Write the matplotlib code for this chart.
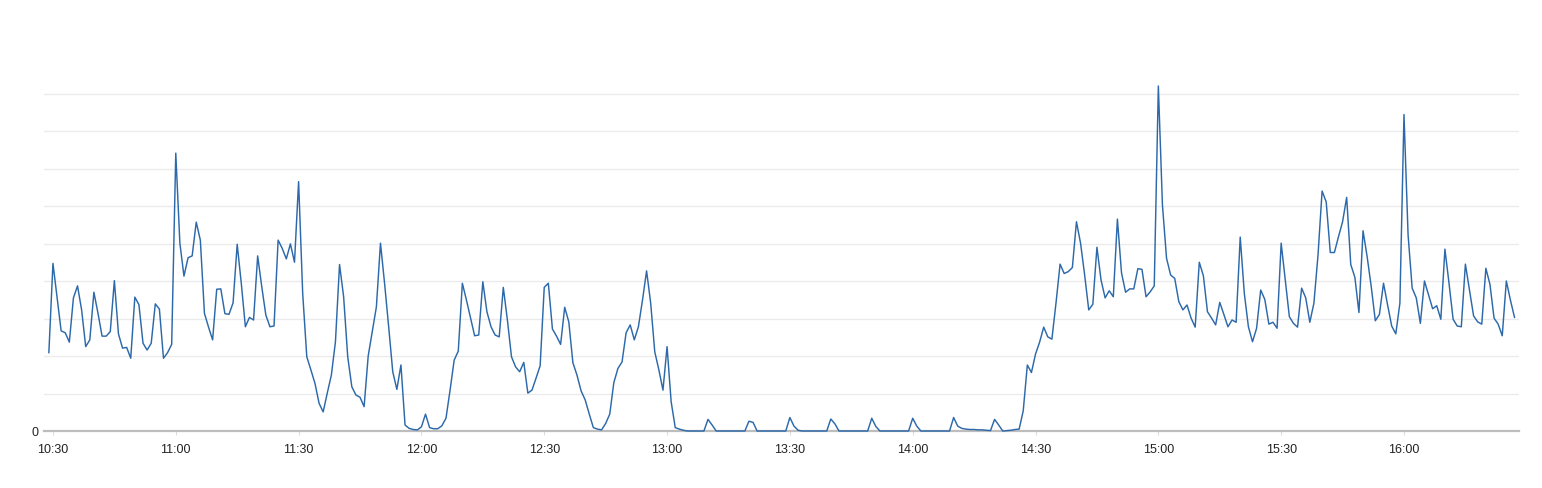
import matplotlib
matplotlib.use("Agg")

import matplotlib.dates as mdates
import matplotlib.pyplot as plt
import pandas as pd

# one sample per minute, starting at 10:29
start_time = "2024-01-01 10:29"
values = [
    20.9,
    44.7, 35.7, 26.7, 26.2, 23.7, 35.5, 38.7, 32.3, 22.5, 24.3,
    37.0, 31.4, 25.3, 25.3, 26.5, 40.1, 25.9, 22.1, 22.3, 19.4,
    35.7, 33.7, 23.4, 21.6, 23.4, 33.9, 32.5, 19.4, 20.9, 23.1,
    74.1, 50.1, 41.3, 46.2, 46.7, 55.7, 50.9, 31.4, 27.7, 24.3,
    37.8, 37.9, 31.3, 31.1, 34.2, 49.8, 39.4, 27.8, 30.3, 29.6,
    46.7, 38.5, 30.9, 27.8, 28.0, 50.9, 48.7, 45.9, 49.9, 45.0,
    66.5, 36.7, 19.8, 16.3, 12.7, 7.4, 5.1, 10.1, 14.9, 23.8,
    44.4, 35.8, 19.8, 11.8, 9.6, 9.0, 6.5, 20.0, 26.5, 33.1,
    50.1, 39.4, 27.8, 15.8, 11.1, 17.6, 1.6, 0.7, 0.4, 0.3,
    1.1, 4.5, 0.9, 0.6, 0.6, 1.4, 3.4, 10.9, 18.9, 21.3,
    39.4, 34.9, 30.1, 25.4, 25.6, 39.8, 31.8, 27.8, 25.6, 25.1,
    38.3, 29.6, 19.8, 17.1, 15.8, 18.3, 10.1, 10.9, 14.1, 17.4,
    38.3, 39.4, 27.2, 25.3, 23.1, 33.0, 29.1, 18.2, 14.9, 10.7,
    8.3, 4.5, 0.9, 0.5, 0.3, 2.0, 4.5, 12.9, 16.7, 18.4,
    26.2, 28.3, 24.3, 27.8, 34.9, 42.7, 34.1, 21.1, 16.3, 10.9,
    22.5, 7.8, 0.9, 0.5, 0.2, 0, 0, 0, 0, 0,
    3.1, 1.6, 0, 0, 0, 0, 0, 0, 0, 0,
    2.6, 2.3, 0, 0, 0, 0, 0, 0, 0, 0,
    3.6, 1.3, 0.2, 0, 0, 0, 0, 0, 0, 0,
    3.2, 1.9, 0, 0, 0, 0, 0, 0, 0, 0,
    3.4, 1.2, 0, 0, 0, 0, 0, 0, 0, 0,
    3.4, 1.3, 0, 0, 0, 0, 0, 0, 0, 0,
    3.6, 1.3, 0.7, 0.5, 0.4, 0.4, 0.3, 0.3, 0.2, 0.1,
    3.1, 1.6, 0, 0.1, 0.2, 0.4, 0.5, 5.4, 17.6, 15.6,
    20.5, 23.7, 27.7, 25.1, 24.5, 34.1, 44.5, 42.0, 42.5, 43.6,
    55.8, 50.1, 41.6, 32.3, 33.8, 49.0, 40.3, 35.5, 37.4, 35.8,
    56.5, 42.2, 37.0, 37.9, 37.9, 43.3, 43.1, 35.8, 37.1, 38.7,
    92.0, 60.3, 46.1, 41.6, 40.7, 34.5, 32.3, 33.6, 30.1, 27.7,
    45.0, 41.4, 31.8, 30.1, 28.3, 34.3, 31.1, 27.8, 29.6, 29.0,
    51.7, 36.7, 27.8, 23.8, 27.4, 37.6, 35.1, 28.5, 29.0, 27.4,
    50.1, 40.3, 30.5, 28.7, 27.7, 38.1, 35.5, 29.0, 34.1, 46.9,
    64.0, 61.1, 47.6, 47.6, 51.8, 55.8, 62.3, 44.4, 41.0, 31.6,
    53.4, 46.5, 38.5, 29.4, 31.1, 39.4, 33.6, 28.0, 25.9, 34.1,
    84.4, 52.3, 38.1, 35.5, 28.7, 40.0, 36.3, 32.6, 33.4, 29.8,
    48.5, 39.4, 29.8, 28.0, 27.8, 44.5, 37.6, 30.7, 29.1, 28.5,
    43.4, 39.1, 30.1, 28.5, 25.4, 40.0, 34.9, 30.3,
]
x_range = ["2024-01-01 10:27:48", "2024-01-01 16:28:06"]
y_ticks = [0, 10, 20, 30, 40, 50, 60, 70, 80, 90]
y_tick_labels = ["0", "", "", "", "", "", "", "", "", ""]

times = pd.date_range(start_time, periods=len(values), freq="1min")

plt.rcParams["font.family"] = ["Liberation Sans", "DejaVu Sans"]

fig = plt.figure(figsize=(15.42, 4.88), dpi=100)
ax = fig.add_axes([0.0285, 0.1168, 0.9566, 0.7684])

ax.plot(times, values, color="#2d69aa", linewidth=1.05, clip_on=False, zorder=3)

ax.set_xlim(pd.Timestamp(x_range[0]), pd.Timestamp(x_range[1]))
ax.set_ylim(0, 100)
ax.set_yticks(y_ticks)
ax.set_yticklabels(y_tick_labels)

ax.xaxis.set_major_locator(mdates.MinuteLocator(byminute=[0, 30]))
ax.xaxis.set_major_formatter(mdates.DateFormatter("%H:%M"))

ax.grid(axis="y", color="#ebebeb", linewidth=1.0)
ax.set_axisbelow(True)
for side in ["top", "left", "right"]:
    ax.spines[side].set_visible(False)
ax.spines["bottom"].set_color("#bdbdbd")
ax.spines["bottom"].set_linewidth(1.6)

ax.tick_params(axis="x", length=3, width=0.8, color="#dddddd", pad=6,
               labelsize=9, labelcolor="#222222")
ax.tick_params(axis="y", length=0, pad=4, labelsize=9, labelcolor="#222222")

fig.savefig("out.png", dpi=100)
